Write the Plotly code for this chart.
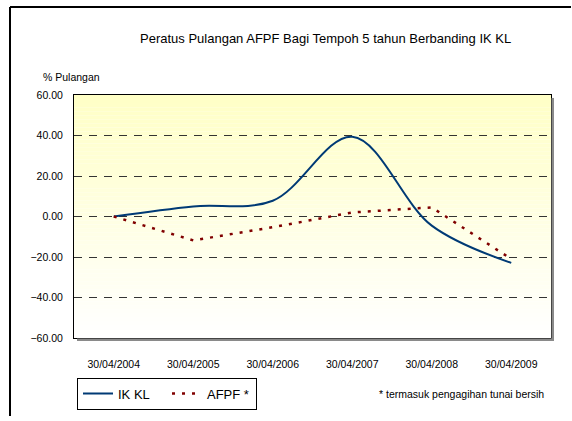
import plotly.graph_objects as go

# ---- data ----
dates = ["30/04/2004", "30/04/2005", "30/04/2006", "30/04/2007", "30/04/2008", "30/04/2009"]
ik_kl = [0.0, 5.0, 7.8, 39.4, -4.5, -22.9]
afpf = [0.0, -11.8, -5.3, 2.0, 4.5, -21.0]
y_ticks = [-60, -40, -20, 0, 20, 40, 60]

title_text = "Peratus Pulangan AFPF Bagi Tempoh 5 tahun Berbanding IK KL"
y_title = "% Pulangan"
note_text = "* termasuk pengagihan tunai bersih"

FONT = "Liberation Sans, Arial, sans-serif"
W, H = 572, 421
L, R, T, B = 74, 551, 95, 341


def px(x):
    return (x - L) / (R - L)


def py(y):
    return (B - y) / (B - T)


fig = go.Figure()
fig.add_trace(go.Scatter(
    x=dates, y=ik_kl, name="IK KL", mode="lines",
    line=dict(color="#003A75", width=2, shape="spline", smoothing=1.0),
))
fig.add_trace(go.Scatter(
    x=dates, y=afpf, name="AFPF *", mode="lines",
    line=dict(color="#800000", width=2.5, dash="3px,7px"),
))

shapes = []
# outer chart frame (left and top edges visible, the rest runs off the page)
shapes.append(dict(type="line", xref="paper", yref="paper",
                   x0=px(10), x1=px(571), y0=py(6), y1=py(6),
                   line=dict(color="black", width=2), layer="above"))
shapes.append(dict(type="line", xref="paper", yref="paper",
                   x0=px(10), x1=px(10), y0=py(420), y1=py(6),
                   line=dict(color="black", width=2), layer="above"))
# vertical gradient background (light yellow top -> white bottom)
n = 60
for i in range(n):
    t = i / (n - 1)
    b = int(round(198 + (255 - 198) * t))
    shapes.append(dict(type="rect", xref="paper", yref="paper",
                       x0=0, x1=1, y0=1 - (i + 1) / n, y1=1 - i / n,
                       fillcolor=f"rgb(255,255,{b})", line=dict(width=0),
                       layer="below"))
# plot-area shadow
shapes.append(dict(type="rect", xref="paper", yref="paper",
                   x0=px(R + 0.5), x1=px(R + 3), y0=py(B + 3), y1=py(T + 3),
                   fillcolor="#8a8a8a", line=dict(width=0), layer="above"))
shapes.append(dict(type="rect", xref="paper", yref="paper",
                   x0=px(L + 3), x1=px(R + 3), y0=py(B + 3), y1=py(B + 0.5),
                   fillcolor="#8a8a8a", line=dict(width=0), layer="above"))

annotations = [
    dict(text=title_text, x=px(325), y=py(38), xref="paper", yref="paper",
         showarrow=False, xanchor="center", yanchor="middle",
         font=dict(family=FONT, size=13, color="black")),
    dict(text=y_title, x=px(41), y=py(77), xref="paper", yref="paper",
         showarrow=False, xanchor="left", yanchor="middle",
         font=dict(family=FONT, size=10.5, color="black")),
    dict(text=note_text, x=px(377), y=py(398), xref="paper", yref="paper",
         showarrow=False, xanchor="left", yanchor="middle",
         font=dict(family=FONT, size=10.5, color="black")),
]

fig.update_layout(
    width=W, height=H,
    margin=dict(l=L, r=W - R, t=T, b=H - B),
    paper_bgcolor="white", plot_bgcolor="white",
    font=dict(family=FONT, size=10.5, color="black"),
    shapes=shapes, annotations=annotations,
    showlegend=True,
    legend=dict(orientation="h", x=px(77), y=py(381), xanchor="left", yanchor="top",
                bgcolor="white", bordercolor="black", borderwidth=1,
                font=dict(family=FONT, size=13, color="black"),
                entrywidth=44, entrywidthmode="pixels", itemwidth=30,
                tracegroupgap=0),
    xaxis=dict(type="category", range=[-0.5, 5.5], showgrid=False, zeroline=False,
               showline=True, linecolor="black", linewidth=1, mirror=True,
               ticks="", ticklabelstandoff=16,
               tickfont=dict(family=FONT, size=10.5, color="black")),
    yaxis=dict(range=[-60, 60], tickvals=y_ticks, tickformat=".2f",
               showgrid=True, gridcolor="#333333", gridwidth=1, griddash="8px,7px",
               zeroline=False, showline=True, linecolor="black", linewidth=1, mirror=True,
               ticks="", ticklabelstandoff=8,
               tickfont=dict(family=FONT, size=10.5, color="black")),
)

fig.write_html(
    "out.html", config={"displayModeBar": False},
    post_script=("document.documentElement.style.margin='0';"
                 "document.documentElement.style.overflow='hidden';"
                 "document.body.style.margin='0';document.body.style.overflow='hidden';"
                 "window.scrollTo(0,0);setTimeout(function(){window.scrollTo(0,0);},50);"),
)
